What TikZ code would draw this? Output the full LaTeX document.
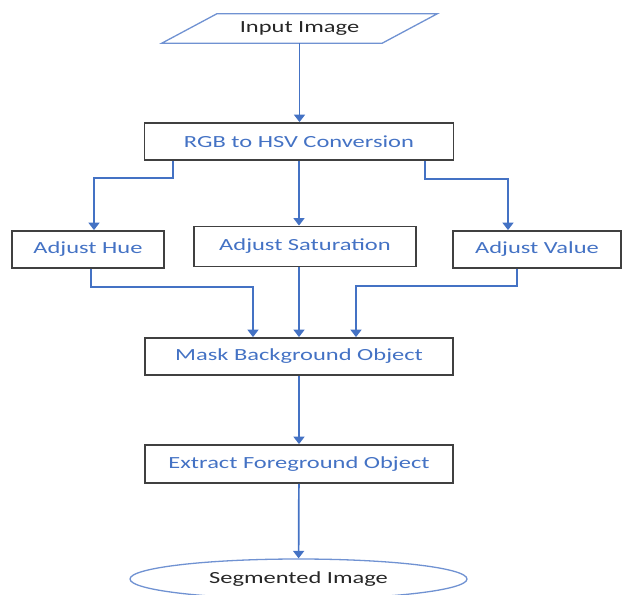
\documentclass[tikz,border=0pt]{standalone}
\usepackage{graphicx}
\usepackage{fontspec}
\setmainfont{Carlito}
\usetikzlibrary{arrows.meta,shapes.geometric}

\definecolor{flowblue}{RGB}{68,114,196}
\definecolor{edgeblue}{RGB}{112,146,210}
\definecolor{boxgray}{RGB}{64,64,64}
\newcommand{\wide}[1]{\scalebox{1.44}[1]{#1}}

\begin{document}
\begin{tikzpicture}[x=1pt,y=-1pt,
	flow/.style={draw=flowblue,line width=1.7pt,-{Triangle[width=11pt,length=7.5pt]}},
	label font/.style={font=\fontsize{17}{20}\selectfont}]

	\useasboundingbox (0,0) rectangle (623,594);

	\begin{scope}[every node/.style={draw=boxgray,line width=1.8pt,rectangle,minimum height=37pt,inner sep=0pt,text=flowblue,label font}]
		\node[minimum width=309pt] (rgb)     at (299,141.5) {\wide{RGB to HSV Conversion}};
		\node[minimum width=152pt] (hue)     at (88,249.5)  {\wide{Adjust Hue}};
		\node[minimum width=222pt,minimum height=40pt] (sat) at (305,246.5) {\wide{Adjust Saturation}};
		\node[minimum width=168pt] (val)     at (537,249.5) {\wide{Adjust Value}};
		\node[minimum width=308pt] (mask)    at (299,356.5) {\wide{Mask Background Object}};
		\node[minimum width=308pt,minimum height=38pt] (extract) at (299,464) {\wide{Extract Foreground Object}};
	\end{scope}

	\node[minimum width=220pt,minimum height=29pt,inner sep=0pt,text=black!85,label font] (input) at (299.5,28.5) {\wide{Input Image}};
	\draw[edgeblue,line width=1.3pt] ([xshift=-27.5pt]input.south west) -- ([xshift=-27.5pt]input.south east)
		-- ([xshift=27.5pt]input.north east) -- ([xshift=27.5pt]input.north west) -- cycle;

	\node[ellipse,draw=edgeblue,line width=1.3pt,minimum width=337pt,minimum height=40pt,inner sep=0pt,text=black!85,label font] (seg) at (298.5,579) {\wide{Segmented Image}};

	\draw[flow] (input.south) -- (input.south |- rgb.north);
	\draw[flow] ([xshift=-126pt]rgb.south) -- ++(0,17) -| ([xshift=6pt]hue.north);
	\draw[flow] (rgb.south) -- (rgb.south |- sat.north);
	\draw[flow] ([xshift=126pt]rgb.south) -- ++(0,18) -| ([xshift=-29pt]val.north);

	\draw[flow] ([xshift=3pt]hue.south) -- ++(0,18) -| ([xshift=-46pt]mask.north);
	\draw[flow] (mask.north |- sat.south) -- (mask.north);
	\draw[flow] ([xshift=-20pt]val.south) -- ++(0,17) -| ([xshift=57pt]mask.north);

	\draw[flow] (mask) -- (extract);
	\draw[flow] (extract) -- (seg);

\end{tikzpicture}
\end{document}
